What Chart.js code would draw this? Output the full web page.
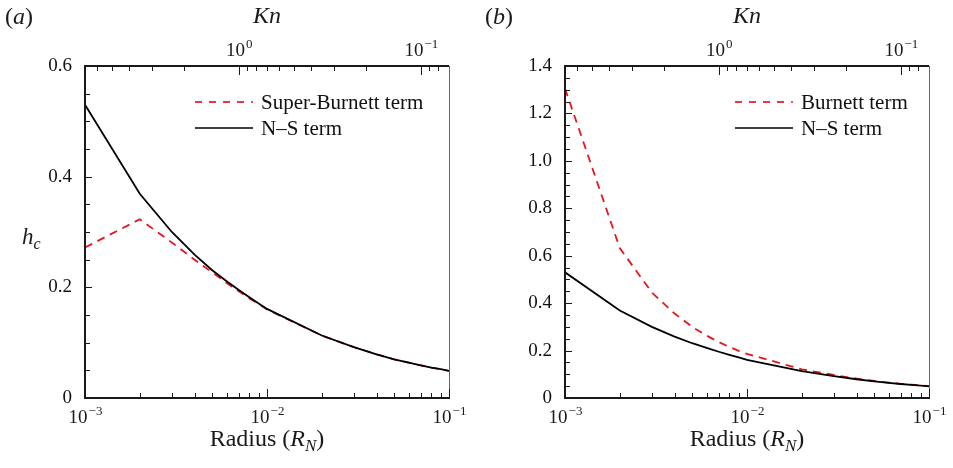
<!DOCTYPE html>
<html>
<head>
<meta charset="utf-8">
<script src="https://cdn.jsdelivr.net/npm/chart.js@4.4.1/dist/chart.umd.min.js"></script>
<style>
    html, body { margin: 0; padding: 0; background: #fff; }
    #wrap { position: relative; width: 953px; height: 468px; overflow: hidden; }
    .panel { position: absolute; top: 0; height: 468px; }
    #panelA { left: 0; width: 480px; }
    #panelB { left: 480px; width: 473px; }
</style>
</head>
<body>
<div id="wrap">
    <div class="panel" id="panelA"><canvas id="chartA" width="480" height="468"></canvas></div>
    <div class="panel" id="panelB"><canvas id="chartB" width="473" height="468"></canvas></div>
</div>
<script>
(function (Chart) {
    "use strict";

    // radius samples (R_N) and the terms
    var radius = [0.001, 0.002, 0.003, 0.004, 0.005, 0.006, 0.007, 0.008, 0.009,
                  0.01, 0.02, 0.03, 0.04, 0.05, 0.06, 0.07, 0.08, 0.09, 0.1];
    var nsTerm = [0.530, 0.369, 0.300, 0.259, 0.231, 0.211, 0.195, 0.182, 0.171,
                  0.161, 0.113, 0.092, 0.079, 0.070, 0.064, 0.059, 0.055, 0.052, 0.049];
    var superBurnettTerm = [0.272, 0.323, 0.281, 0.250, 0.227, 0.208, 0.193, 0.180, 0.170,
                  0.160, 0.113, 0.092, 0.079, 0.070, 0.064, 0.059, 0.055, 0.052, 0.049];
    var burnettTerm = [1.305, 0.632, 0.445, 0.356, 0.300, 0.263, 0.236, 0.215, 0.199,
                  0.186, 0.121, 0.097, 0.082, 0.072, 0.065, 0.060, 0.056, 0.053, 0.050];

    // tick positions
    var radiusTicks = [0.001, 0.002, 0.003, 0.004, 0.005, 0.006, 0.007, 0.008, 0.009,
                       0.01, 0.02, 0.03, 0.04, 0.05, 0.06, 0.07, 0.08, 0.09, 0.1];
    var radiusMajor = [0.001, 0.01, 0.1];
    var radiusLabels = ["\u22123", "\u22122", "\u22121"];
    var knTicks = [0.08, 0.09, 0.1, 0.2, 0.3, 0.4, 0.5, 0.6, 0.7, 0.8, 0.9, 1, 2, 3, 4, 5, 6];
    var knMajor = [1, 0.1];
    var knLabels = ["0", "\u22121"];
    var knPerRadius = 0.007;   // Kn = knPerRadius / R

    var SERIF = "\"Liberation Serif\", \"Times New Roman\", \"DejaVu Serif\", serif";
    var RED = "#e8141c";

    function toPoints (ys) {
        var pts = [];
        for (var i = 0; i < radius.length; i++) {
            pts.push({ x: radius[i], y: ys[i] });
        }
        return pts;
    }

    function isMajor (list, v) {
        for (var i = 0; i < list.length; i++) {
            if (Math.abs(list[i] - v) / list[i] < 1e-6) return true;
        }
        return false;
    }

    // draws base + raised exponent, centred on x
    function drawPower (ctx, base, exp, x, y, size) {
        var supSize = Math.round(size * 0.7);
        ctx.font = size + "px " + SERIF;
        var wb = ctx.measureText(base).width;
        ctx.font = supSize + "px " + SERIF;
        var we = ctx.measureText(exp).width;
        var left = x - (wb + we) / 2;
        ctx.textAlign = "left";
        ctx.textBaseline = "alphabetic";
        ctx.font = size + "px " + SERIF;
        ctx.fillText(base, left, y);
        ctx.font = supSize + "px " + SERIF;
        ctx.fillText(exp, left + wb + 1, y - size * 0.42);
    }

    // draws a run of [text, style] pieces; style: "n" normal, "i" italic, "s" italic subscript
    function drawRuns (ctx, runs, x, y, size, align) {
        var total = 0, i, f;
        var fonts = [];
        for (i = 0; i < runs.length; i++) {
            f = runs[i][1] === "n" ? size + "px " + SERIF :
                runs[i][1] === "i" ? "italic " + size + "px " + SERIF :
                "italic " + Math.round(size * 0.7) + "px " + SERIF;
            fonts.push(f);
            ctx.font = f;
            total += ctx.measureText(runs[i][0]).width;
        }
        var cx = align === "center" ? x - total / 2 : x;
        ctx.textAlign = "left";
        ctx.textBaseline = "alphabetic";
        for (i = 0; i < runs.length; i++) {
            ctx.font = fonts[i];
            var dy = runs[i][1] === "s" ? size * 0.22 : 0;
            ctx.fillText(runs[i][0], cx, y + dy);
            cx += ctx.measureText(runs[i][0]).width;
        }
    }

    var decorPlugin = {
        id: "decor",
        afterDraw: function (chart) {
            var ctx = chart.ctx,
                area = chart.chartArea,
                cfg = chart.options.plugins.decor,
                xs = chart.scales.x, kn = chart.scales.kn, ys = chart.scales.y,
                i, p, len;

            ctx.save();
            ctx.fillStyle = "#1a1a1a";

            // frame
            ctx.lineWidth = 1;
            ctx.strokeStyle = "#666";
            ctx.beginPath();
            ctx.moveTo(area.right + 0.5, area.top);
            ctx.lineTo(area.right + 0.5, area.bottom);
            ctx.stroke();
            ctx.strokeStyle = "#1a1a1a";
            ctx.lineWidth = 2;
            ctx.beginPath();
            ctx.moveTo(area.right, area.top);
            ctx.lineTo(area.left, area.top);
            ctx.lineTo(area.left, area.bottom);
            ctx.lineTo(area.right + 1, area.bottom);
            ctx.stroke();

            // inward ticks
            ctx.lineWidth = 1;
            ctx.beginPath();
            for (i = 0; i < xs.ticks.length; i++) {
                p = Math.round(xs.getPixelForValue(xs.ticks[i].value)) + 0.5;
                len = isMajor(radiusMajor, xs.ticks[i].value) ? 9 : 5;
                ctx.moveTo(p, area.bottom);
                ctx.lineTo(p, area.bottom - len);
            }
            for (i = 0; i < kn.ticks.length; i++) {
                p = Math.round(kn.getPixelForValue(kn.ticks[i].value)) + 0.5;
                len = isMajor(knMajor, kn.ticks[i].value) ? 9 : 5;
                ctx.moveTo(p, area.top);
                ctx.lineTo(p, area.top + len);
            }
            for (i = 0; i < ys.ticks.length; i++) {
                p = Math.round(ys.getPixelForValue(ys.ticks[i].value)) + 0.5;
                len = ys.ticks[i].label ? 7 : 5;
                ctx.moveTo(area.left, p);
                ctx.lineTo(area.left + len, p);
            }
            ctx.stroke();

            // power-of-ten tick labels
            for (i = 0; i < radiusMajor.length; i++) {
                drawPower(ctx, "10", radiusLabels[i], xs.getPixelForValue(radiusMajor[i]), area.bottom + 25, 19);
            }
            for (i = 0; i < knMajor.length; i++) {
                drawPower(ctx, "10", knLabels[i], kn.getPixelForValue(knMajor[i]), area.top - 10, 19);
            }

            // titles
            var mid = (area.left + area.right) / 2;
            drawRuns(ctx, [["Kn", "i"]], mid, 23, 24, "center");
            drawRuns(ctx, [["Radius (", "n"], ["R", "i"], ["N", "s"], [")", "n"]], mid, 446, 24, "center");
            drawRuns(ctx, [["(", "n"], [cfg.panel, "i"], [")", "n"]], 5, 24, 24, "left");
            if (cfg.yTitle) {
                drawRuns(ctx, [["h", "i"], ["c", "s"]], 22, 244, 23, "left");
            }

            // legend
            var lx = cfg.legendX, ly = 102;
            ctx.lineWidth = 1.7;
            ctx.strokeStyle = RED;
            ctx.setLineDash([7, 7]);
            ctx.beginPath();
            ctx.moveTo(lx, ly);
            ctx.lineTo(lx + 58, ly);
            ctx.stroke();
            ctx.setLineDash([]);
            ctx.strokeStyle = "#000";
            ctx.beginPath();
            ctx.moveTo(lx, ly + 26);
            ctx.lineTo(lx + 58, ly + 26);
            ctx.stroke();
            ctx.fillStyle = "#111";
            drawRuns(ctx, [[cfg.dashedLabel, "n"]], lx + 66, ly + 7, 21, "left");
            drawRuns(ctx, [["N\u2013S term", "n"]], lx + 66, ly + 33, 21, "left");

            ctx.restore();
        }
    };

    function makePanel (canvasId, setup) {
        var canvas = document.getElementById(canvasId);

        return new Chart(canvas, {
            type: "line",
            data: {
                datasets: [{
                    label: "N\u2013S term",
                    data: toPoints(nsTerm),
                    borderColor: "#000",
                    borderWidth: 1.8,
                    pointRadius: 0,
                    tension: 0,
                    fill: false
                }, {
                    label: setup.dashedLabel,
                    data: toPoints(setup.dashed),
                    borderColor: RED,
                    borderWidth: 1.8,
                    borderDash: [8, 6],
                    pointRadius: 0,
                    tension: 0,
                    fill: false
                }]
            },
            options: {
                responsive: false,
                animation: false,
                events: [],
                layout: { padding: { left: 0, top: 0, bottom: 0, right: canvas.width - 449 } },
                plugins: {
                    legend: { display: false },
                    tooltip: { enabled: false },
                    decor: setup
                },
                scales: {
                    x: {
                        type: "logarithmic",
                        position: "bottom",
                        min: 0.001,
                        max: 0.1,
                        grid: { display: false, drawTicks: false },
                        border: { display: false },
                        ticks: { display: false },
                        afterBuildTicks: function (scale) {
                            scale.ticks = radiusTicks.map(function (v) { return { value: v }; });
                        },
                        afterFit: function (scale) { scale.height = 70; }
                    },
                    kn: {
                        type: "logarithmic",
                        position: "top",
                        reverse: true,
                        min: knPerRadius / 0.1,
                        max: knPerRadius / 0.001,
                        grid: { display: false, drawTicks: false },
                        border: { display: false },
                        ticks: { display: false },
                        afterBuildTicks: function (scale) {
                            scale.ticks = knTicks.map(function (v) { return { value: v }; });
                        },
                        afterFit: function (scale) { scale.height = 66; }
                    },
                    y: {
                        type: "linear",
                        min: 0,
                        max: setup.yMax,
                        grid: { display: false, drawTicks: false },
                        border: { display: false },
                        ticks: {
                            stepSize: 0.05,
                            autoSkip: false,
                            padding: 13,
                            color: "#111",
                            font: { family: SERIF, size: 19 },
                            callback: function (v) {
                                var k = v / 0.2;
                                if (Math.abs(k - Math.round(k)) > 1e-6) return "";
                                if (Math.round(k) === 0) return "0";
                                return (Math.round(k) * 0.2).toFixed(1);
                            }
                        },
                        afterFit: function (scale) { scale.width = 85; }
                    }
                }
            },
            plugins: [decorPlugin]
        });
    }

    makePanel("chartA", {
        panel: "a",
        yTitle: true,
        yMax: 0.6,
        dashed: superBurnettTerm,
        dashedLabel: "Super-Burnett term",
        legendX: 195
    });

    makePanel("chartB", {
        panel: "b",
        yTitle: false,
        yMax: 1.4,
        dashed: burnettTerm,
        dashedLabel: "Burnett term",
        legendX: 255
    });
})(Chart);
</script>
</body>
</html>
